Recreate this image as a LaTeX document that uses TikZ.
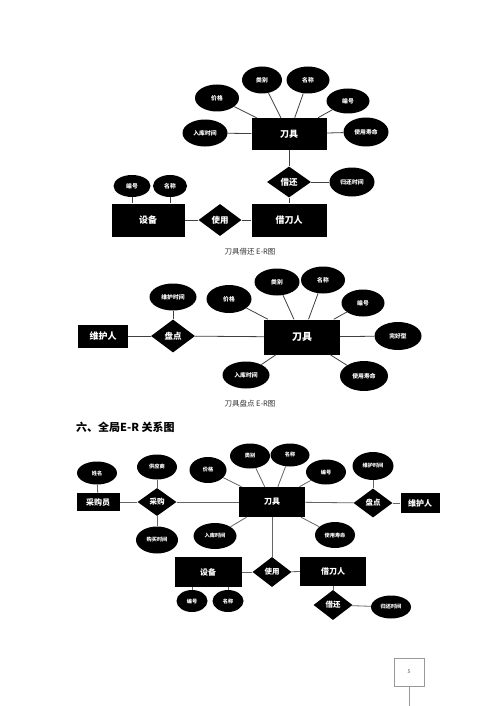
\documentclass[tikz,border=0pt]{standalone}
\usepackage{fontspec}
\setmainfont{Noto Sans CJK SC}
\usetikzlibrary{shapes.geometric}
\tikzset{
  ent/.style 2 args={rectangle, fill=black, text=white, inner sep=0pt, minimum width=#1, minimum height=#2, font=\bfseries\fs},
  att/.style 2 args={ellipse, fill=black, text=white, inner sep=0pt, minimum width=#1, minimum height=#2, font=\bfseries\fa},
  rel/.style 2 args={diamond, fill=black, text=white, inner sep=0pt, aspect=1.4, minimum width=#1, minimum height=#2, font=\bfseries\fr},
  ln/.style={draw=black!75, line width=0.8pt},
  captxt/.style={font=\fontsize{7.5}{9}\selectfont, text=black!80},
}
\newcommand{\fs}{\fontsize{9}{10}\selectfont}
\newcommand{\fa}{\fontsize{5.8}{7}\selectfont}
\newcommand{\fr}{\fontsize{8.5}{10}\selectfont}
\begin{document}
\begin{tikzpicture}[x=1pt,y=-1pt]
\useasboundingbox[fill=white] (0,0) rectangle (500,706);
% ---------- Diagram 1 ----------
\node[ent={75}{32}] (a1) at (289,134) {刀具};
\node[att={40}{27}] (a1lb) at (262,80) {类别};
\node[att={43}{27}] (a1mc) at (308,80) {名称};
\node[att={44}{27}] (a1jg) at (217,98) {价格};
\node[att={43}{25}] (a1bh) at (348,101) {编号};
\node[att={45}{27}] (a1rk) at (205,133) {入库时间};
\node[att={45}{29}] (a1sy) at (366,132) {使用寿命};
\node[rel={44}{31}] (a1jh) at (289,182) {借还};
\node[att={45}{29}] (a1gh) at (352,182) {归还时间};
\node[ent={75}{33}] (a1jdr) at (289,220) {借刀人};
\node[rel={43}{32}] (a1syr) at (220,220) {使用};
\node[ent={73}{33}] (a1sb) at (148,220) {设备};
\node[att={37}{22}] (a1sbh) at (132,186) {编号};
\node[att={34}{22}] (a1smc) at (170,186) {名称};
\foreach \n in {a1lb,a1mc,a1jg,a1bh,a1rk,a1sy} \draw[ln] (\n) -- (a1);
\draw[ln] (a1) -- (a1jh);
\draw[ln] (a1jh) -- (a1gh);
\draw[ln] (a1jh) -- (a1jdr);
\draw[ln] (a1jdr) -- (a1syr);
\draw[ln] (a1syr) -- (a1sb);
\draw[ln] (a1sbh) -- (a1sbh |- a1sb.north);
\draw[ln] (a1smc) -- (a1smc |- a1sb.north);
\node[captxt] (c1) at (250,252) {刀具借还 E-R图};
% ---------- Diagram 2 ----------
\node[ent={50}{23}] (b2wh) at (103,336) {维护人};
\node[rel={44}{33}] (b2pd) at (173,336) {盘点};
\node[att={47}{27}] (b2wt) at (173,297) {维护时间};
\node[ent={76}{35}, font=\bfseries\fontsize{10}{11}\selectfont] (b2) at (302,337) {刀具};
\node[att={45}{28}] (b2jg) at (229,299) {价格};
\node[att={45}{27}] (b2lb) at (277,282) {类别};
\node[att={44}{27}] (b2mc) at (323,280) {名称};
\node[att={43}{27}] (b2bh) at (363,303) {编号};
\node[att={47}{28}] (b2wh2) at (398,336) {完好型};
\node[att={47}{27}] (b2rk) at (246,375) {入库时间};
\node[att={48}{30}] (b2sy) at (364,376) {使用寿命};
\draw[ln] (b2wh) -- (b2pd);
\draw[ln] (b2pd) -- (b2);
\draw[ln] (b2pd) -- (b2wt);
\foreach \n in {b2jg,b2lb,b2mc,b2bh,b2wh2,b2rk,b2sy} \draw[ln] (\n) -- (b2);
\node[captxt] (c2) at (250,404) {刀具盘点 E-R图};
% ---------- Heading ----------
\node[anchor=west, inner sep=0pt, font=\bfseries\fontsize{11}{13}\selectfont] (h3) at (76,427) {六、全局E-R 关系图};
% ---------- Diagram 3 ----------
\begin{scope}[ln/.style={draw=black!60, line width=0.8pt}]
\renewcommand{\fs}{\fontsize{8}{9}\selectfont}
\renewcommand{\fa}{\fontsize{5.2}{6}\selectfont}
\renewcommand{\fr}{\fontsize{7.5}{9}\selectfont}
\node[att={40}{23}] (c3xm) at (97,473) {姓名};
\node[ent={43}{18}] (c3cgy) at (98,502) {采购员};
\node[rel={39}{28}] (c3cg) at (157,502) {采购};
\node[att={40}{25}] (c3gys) at (157,467) {供应商};
\node[att={42}{27}] (c3gm) at (157,540) {购买时间};
\node[ent={66}{30}] (c3) at (272,502) {刀具};
\node[att={37}{26}] (c3jg) at (208,470) {价格};
\node[att={40}{25}] (c3lb) at (250,456) {类别};
\node[att={39}{23}] (c3mc) at (290,455) {名称};
\node[att={40}{25}] (c3bh) at (326,472) {编号};
\node[att={41}{28}] (c3wt) at (373,466) {维护时间};
\node[rel={39}{29}] (c3pd) at (373,503) {盘点};
\node[ent={39}{20}] (c3wh) at (420,503) {维护人};
\node[att={43}{26}] (c3rk) at (215,536) {入库时间};
\node[att={40}{26}] (c3sy) at (335,535) {使用寿命};
\node[rel={39}{30}] (c3syr) at (272,572) {使用};
\node[ent={67}{30}] (c3sb) at (208,572) {设备};
\node[ent={66}{29}] (c3jdr) at (333,571) {借刀人};
\node[att={31}{22}] (c3sbh) at (192,601) {编号};
\node[att={31}{22}] (c3smc) at (228,601) {名称};
\node[rel={39}{30}] (c3jh) at (333,605) {借还};
\node[att={40}{23}] (c3gh) at (391,607) {归还时间};
\draw[ln] (c3xm) -- (c3cgy);
\draw[ln] (c3cgy) -- (c3cg);
\draw[ln] (c3cg) -- (c3);
\draw[ln] (c3cg) -- (c3gys);
\draw[ln] (c3cg) -- (c3gm);
\foreach \n in {c3jg,c3lb,c3mc,c3bh,c3rk,c3sy} \draw[ln] (\n) -- (c3);
\draw[ln] (c3) -- (c3pd);
\draw[ln] (c3pd) -- (c3wt);
\draw[ln] (c3pd) -- (c3wh);
\draw[ln] (c3) -- (c3syr);
\draw[ln] (c3syr) -- (c3sb);
\draw[ln] (c3syr) -- (c3jdr);
\draw[ln] (c3sbh) -- (c3sbh |- c3sb.south);
\draw[ln] (c3smc) -- (c3smc |- c3sb.south);
\draw[ln] (c3jdr) -- (c3jh);
\draw[ln] (c3jh) -- (c3gh);
\end{scope}
% ---------- Page number ----------
\node[draw=black!40, line width=0.6pt, minimum width=30, minimum height=28, inner sep=0pt, text=black!70, font=\fontsize{5}{6}\selectfont] (pg) at (409,672) {5};
\coordinate (pgend) at (409,706);
\draw[draw=black!40, line width=0.6pt] (pg) -- (pgend);
\end{tikzpicture}
\end{document}
